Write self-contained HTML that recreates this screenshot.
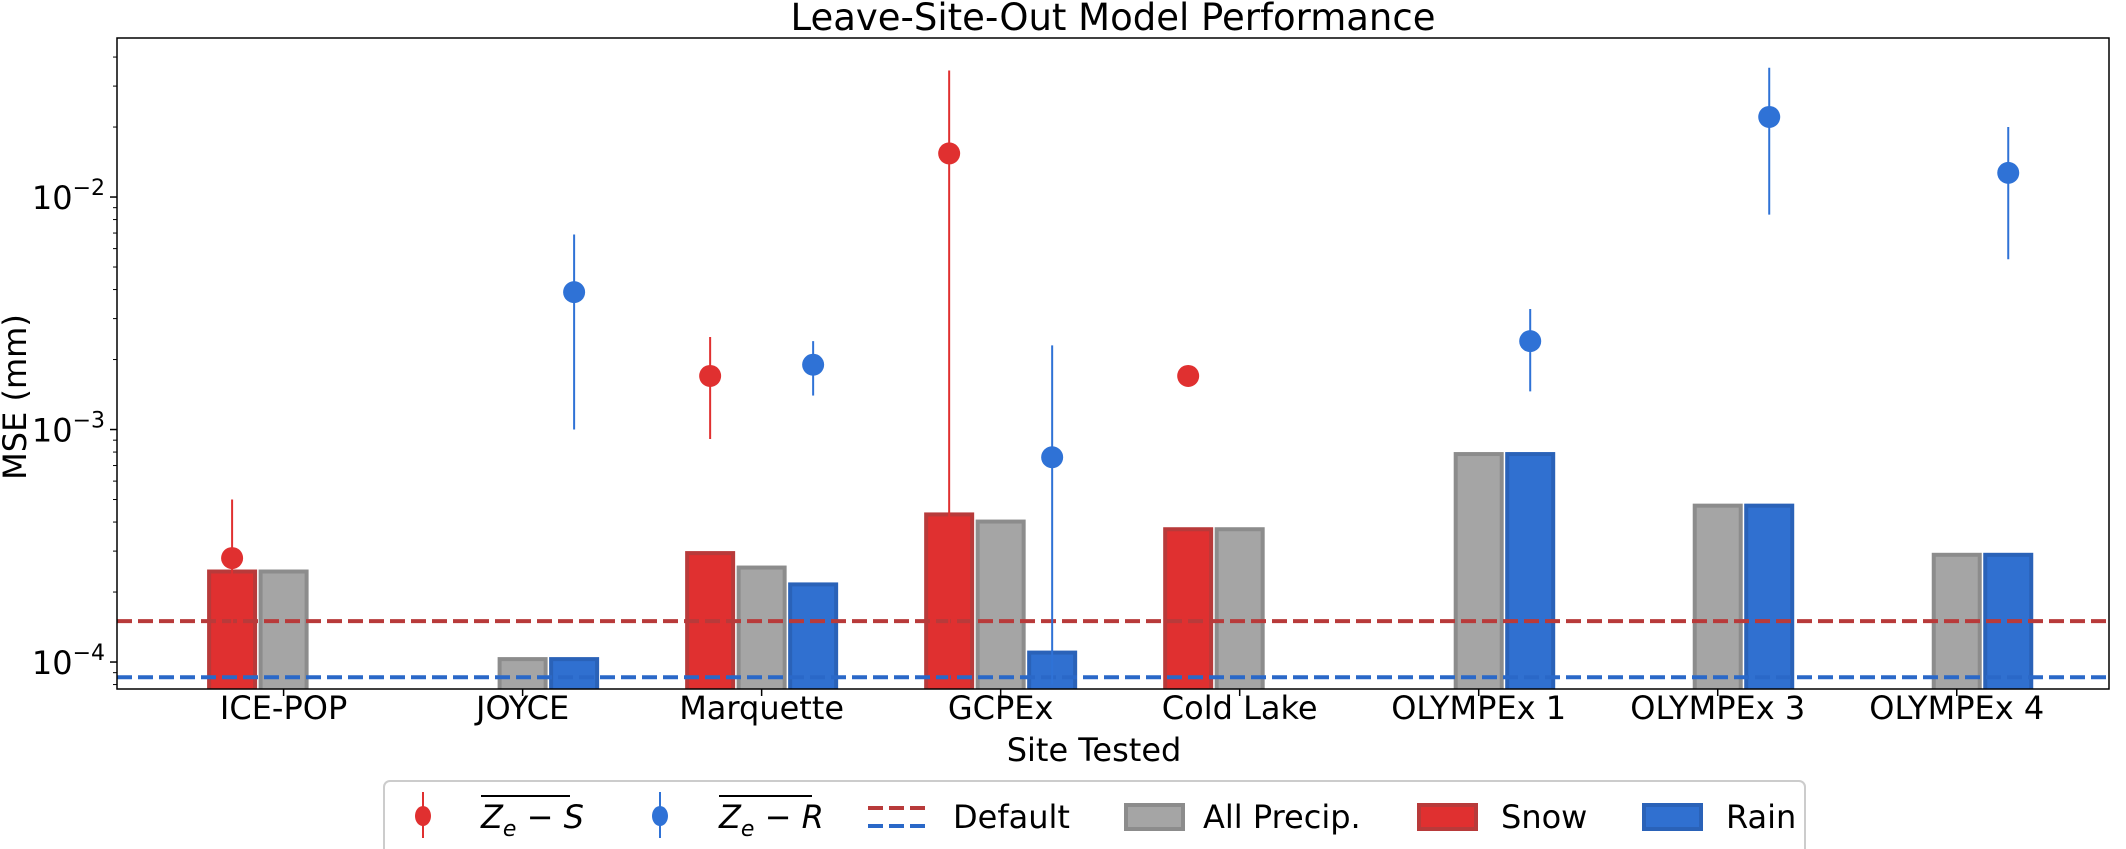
<!DOCTYPE html>
<html><head><meta charset="utf-8"><style>
html,body{margin:0;padding:0;background:#fff}
svg{display:block;font-family:"DejaVu Sans","Liberation Sans",sans-serif}
</style></head><body>
<svg id="chart" width="2126" height="849" viewBox="0 0 2126 849">
<text x="1113" y="30" font-size="37" text-anchor="middle">Leave-Site-Out Model Performance</text>
<g id="plot"></g>
<text transform="translate(26,397) rotate(-90)" font-size="32" text-anchor="middle">MSE (mm)</text>
<text x="1094" y="761" font-size="32" text-anchor="middle">Site Tested</text>
<g>
<rect x="384" y="781" width="1421" height="103" rx="6" fill="#fff" stroke="#ccc" stroke-width="2"/>
<g>
<line x1="423" y1="792" x2="423" y2="838" stroke="#e03030" stroke-width="2"/>
<ellipse cx="423" cy="816" rx="8" ry="10" fill="#e03030"/>
<line x1="481" y1="796" x2="570" y2="796" stroke="#000" stroke-width="2"/>
<text x="481" y="828" font-size="32" font-style="italic">Z<tspan font-size="22" dy="8">e</tspan><tspan dy="-8" font-style="normal"> − </tspan>S</text>
</g>
<g>
<line x1="660" y1="792" x2="660" y2="838" stroke="#2f72d6" stroke-width="2"/>
<ellipse cx="660" cy="816" rx="8" ry="10" fill="#2f72d6"/>
<line x1="719" y1="796" x2="812" y2="796" stroke="#000" stroke-width="2"/>
<text x="719" y="828" font-size="32" font-style="italic">Z<tspan font-size="22" dy="8">e</tspan><tspan dy="-8" font-style="normal"> − </tspan>R</text>
</g>
<g>
<line x1="868" y1="808" x2="929" y2="808" stroke="#b83a3a" stroke-width="4" stroke-dasharray="15,6"/>
<line x1="868" y1="826" x2="929" y2="826" stroke="#2a68c8" stroke-width="4" stroke-dasharray="15,6"/>
<text x="953" y="828" font-size="32">Default</text>
</g>
<g>
<rect x="1126" y="805" width="57" height="24" fill="#a5a5a5" stroke="#8c8c8c" stroke-width="4"/>
<text x="1203" y="828" font-size="32">All Precip.</text>
</g>
<g>
<rect x="1419" y="805" width="57" height="24" fill="#e03030" stroke="#b83a3a" stroke-width="4"/>
<text x="1501" y="828" font-size="32">Snow</text>
</g>
<g>
<rect x="1644" y="805" width="57" height="24" fill="#3070d0" stroke="#2a62b8" stroke-width="4"/>
<text x="1726" y="828" font-size="32">Rain</text>
</g>
</g>
</svg>
<script>
const categories = ["ICE-POP","JOYCE","Marquette","GCPEx","Cold Lake","OLYMPEx 1","OLYMPEx 3","OLYMPEx 4"];
const snowBars = [2.5e-4, null, 3.0e-4, 4.4e-4, 3.8e-4, null, null, null];
const allBars = [2.5e-4, 1.05e-4, 2.6e-4, 4.1e-4, 3.8e-4, 8.0e-4, 4.8e-4, 2.95e-4];
const rainBars = [null, 1.05e-4, 2.2e-4, 1.12e-4, null, 8.0e-4, 4.8e-4, 2.95e-4];
const snowMean = [2.8e-4, null, 1.7e-3, 1.54e-2, 1.7e-3, null, null, null];
const snowLow = [1.0e-4, null, 9.1e-4, 8.0e-5, 1.7e-3, null, null, null];
const snowHigh = [5.0e-4, null, 2.5e-3, 3.5e-2, 1.7e-3, null, null, null];
const rainMean = [null, 3.9e-3, 1.9e-3, 7.6e-4, null, 2.4e-3, 2.21e-2, 1.27e-2];
const rainLow = [null, 1.0e-3, 1.4e-3, 8.0e-5, null, 1.46e-3, 8.4e-3, 5.4e-3];
const rainHigh = [null, 6.9e-3, 2.4e-3, 2.3e-3, null, 3.3e-3, 3.6e-2, 2.0e-2];
const defaultSnow = 1.5e-4;
const defaultRain = 8.6e-5;
const yTicks = [-4, -3, -2];

const NS = "http://www.w3.org/2000/svg";
const L = 117, R = 2109, T = 38, B = 689;
const logMin = -4.116, logMax = -1.316;
const xMin = -0.697, xMax = 7.637;
function y(v){ return B - (Math.log10(v) - logMin) / (logMax - logMin) * (B - T); }
function x(i){ return L + (i - xMin) / (xMax - xMin) * (R - L); }
const off = 51.5, bw = 50;
const plot = document.getElementById('plot');
function mk(tag, attrs, parent){
  const e = document.createElementNS(NS, tag);
  for (const k in attrs) e.setAttribute(k, attrs[k]);
  (parent || plot).appendChild(e);
  return e;
}
const defs = mk('defs', {});
const cp = mk('clipPath', {id: 'clip'}, defs);
mk('rect', {x: L, y: T, width: R - L, height: B - T}, cp);
const g = mk('g', {'clip-path': 'url(#clip)'});

function bar(i, v, dx, fill, stroke, name){
  if (v == null) return;
  const r = mk('rect', {x: x(i) + dx - bw/2 + 2, y: y(v) + 2, width: bw - 4, height: B - y(v) + 10, fill: fill, stroke: stroke, 'stroke-width': 4}, g);
  
  
}
categories.forEach((c, i) => {
  bar(i, snowBars[i], -off, '#e03030', '#b83a3a', 'bar-snow-' + i);
  bar(i, allBars[i], 0, '#a5a5a5', '#8c8c8c', 'bar-all-precip-' + i);
  bar(i, rainBars[i], off, '#3070d0', '#2a62b8', 'bar-rain-' + i);
});
function dline(v, color, name){
  const l = mk('line', {x1: L, x2: R, y1: y(v), y2: y(v), stroke: color, 'stroke-width': 4, 'stroke-dasharray': '15,6'}, g);
  
  
}
dline(defaultSnow, '#b83a3a', 'default-snow-line');
dline(defaultRain, '#2a68c8', 'default-rain-line');
function pt(i, m, lo, hi, dx, color, name){
  if (m == null) return;
  const xx = x(i) + dx;
  const l = mk('line', {x1: xx, x2: xx, y1: y(hi), y2: y(lo), stroke: color, 'stroke-width': 2}, g);
  
  
  const c = mk('circle', {cx: xx, cy: y(m), r: 11, fill: color}, g);
  
  
}
categories.forEach((c, i) => {
  pt(i, snowMean[i], snowLow[i], snowHigh[i], -off, '#e03030', 'point-snow-' + i);
  pt(i, rainMean[i], rainLow[i], rainHigh[i], off, '#2f72d6', 'point-rain-' + i);
});
mk('rect', {x: L, y: T, width: R - L, height: B - T, fill: 'none', stroke: '#000', 'stroke-width': 1.5});
for (let d = -5; d <= -1; d++){
  for (let k = 1; k <= 9; k++){
    const v = k * Math.pow(10, d);
    const lv = Math.log10(v);
    if (lv < logMin || lv > logMax) continue;
    const yy = y(v);
    mk('line', {x1: L, x2: L - (k === 1 ? 7 : 4), y1: yy, y2: yy, stroke: '#000', 'stroke-width': k === 1 ? 1.5 : 1});
  }
}
yTicks.forEach(d => {
  const t = mk('text', {x: L - 12, y: y(Math.pow(10, d)) + 12, 'font-size': 32, 'text-anchor': 'end'});
  
  
  t.appendChild(document.createTextNode('10'));
  const s = document.createElementNS(NS, 'tspan');
  s.setAttribute('font-size', 22);
  s.setAttribute('dy', -14);
  s.textContent = '\u2212' + Math.abs(d);
  t.appendChild(s);
});
categories.forEach((c, i) => {
  mk('line', {x1: x(i), x2: x(i), y1: B, y2: B + 7, stroke: '#000', 'stroke-width': 1.5});
  const t = mk('text', {x: x(i), y: B + 30, 'font-size': 32, 'text-anchor': 'middle'});
  
  
  t.textContent = c;
});
</script>
</body></html>
